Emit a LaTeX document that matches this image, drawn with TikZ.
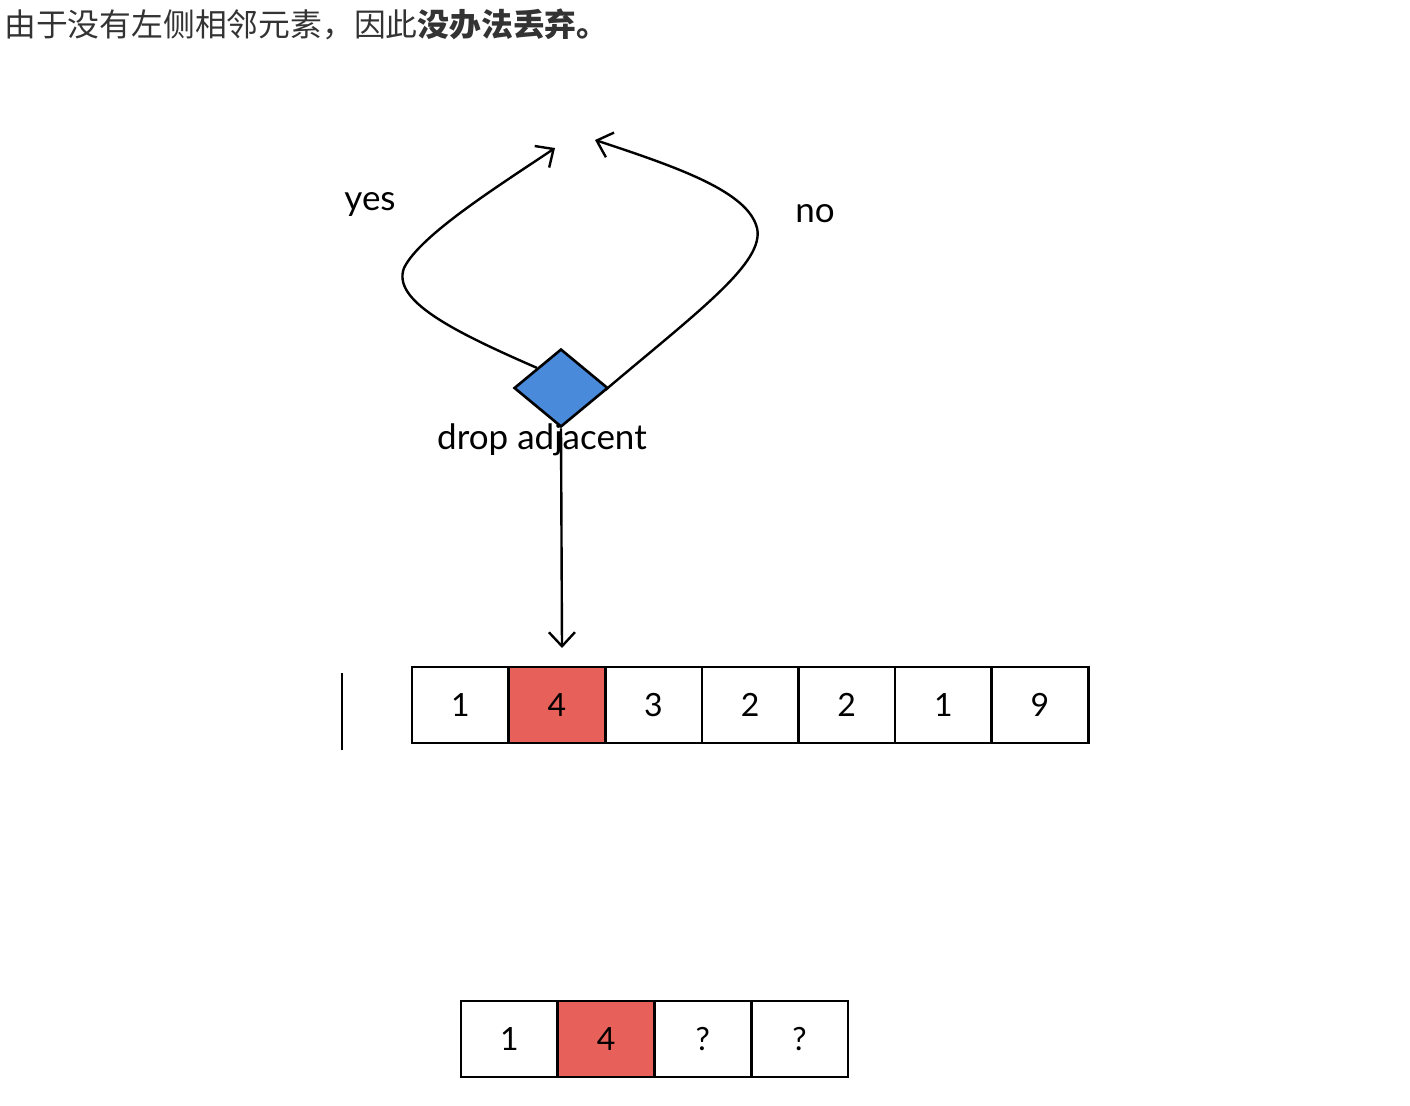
\documentclass[tikz,border=0pt]{standalone}
\usepackage{fontspec}
\newfontfamily\cjk{Noto Sans CJK SC}
\newfontfamily\hand{Lato}
\usetikzlibrary{shapes.geometric,arrows.meta}
\definecolor{cellred}{HTML}{E8605A}
\definecolor{dblue}{HTML}{4A8ADB}
\definecolor{titlegray}{HTML}{333333}
\begin{document}
\begin{tikzpicture}[x=1pt,y=-1pt,
  line width=2.6pt,
  cell/.style={draw=black,line width=2.6pt,minimum width=96.6pt,minimum height=76pt,inner sep=0pt,
    font=\hand\fontsize{32}{32}\selectfont},
  redcell/.style={cell,fill=cellred},
  lbl/.style={font=\hand\fontsize{35}{35}\selectfont,inner sep=0pt},
  arr/.style={draw=black,line width=2.4pt,-{Straight Barb[length=14pt,width=26pt,line width=2.4pt]}},
]
\useasboundingbox (0,0) rectangle (1410,1105);
\fill[white] (0,0) rectangle (1410,1105);

% title
\node[anchor=base west,inner sep=0pt,text=titlegray,font=\cjk\fontsize{31.8}{31.8}\selectfont] (title) at (3,37)
  {由于没有左侧相邻元素，因此\textbf{没办法丢弃。}};

% decision diamond
\node[diamond,draw=black,fill=dblue,line width=2.6pt,minimum width=94pt,minimum height=78pt,inner sep=0pt] (d) at (561,388) {};

\coordinate (yesend) at (555,148);
\coordinate (noend) at (595,140);
\coordinate (downend) at (562,648);

\draw[arr] (d.north west) .. controls (450,330) and (392,300) .. (404,268)
  .. controls (420,235) and (500,185) .. (yesend);
\draw[arr] ([xshift=-4pt,yshift=-2pt]d.east) .. controls (700,310) and (765,262) .. (757,228)
  .. controls (748,192) and (680,168) .. (noend);
\draw[arr] (d.south) -- (downend);

\node[lbl] (yes) at (370,204) {yes};
\node[lbl] (no) at (815,214) {no};
\node[lbl] (drop) at (542,440) {drop adjacent};

% left marker line
\coordinate (mk1) at (342,673);
\coordinate (mk2) at (342,750);
\draw[line width=2.6pt] (mk1) -- (mk2);

% top array
\foreach \v [count=\i] in {1,4,3,2,2,1,9} {
  \ifnum\i=2
    \node[redcell] (t\i) at ({412+96.6*(\i-0.5)},705) {\v};
  \else
    \node[cell] (t\i) at ({412+96.6*(\i-0.5)},705) {\v};
  \fi
}

% bottom array
\foreach \v [count=\i] in {1,4,?,?} {
  \ifnum\i=2
    \node[redcell] (b\i) at ({461+96.75*(\i-0.5)},1039) {\v};
  \else
    \node[cell] (b\i) at ({461+96.75*(\i-0.5)},1039) {\v};
  \fi
}
\end{tikzpicture}
\end{document}
